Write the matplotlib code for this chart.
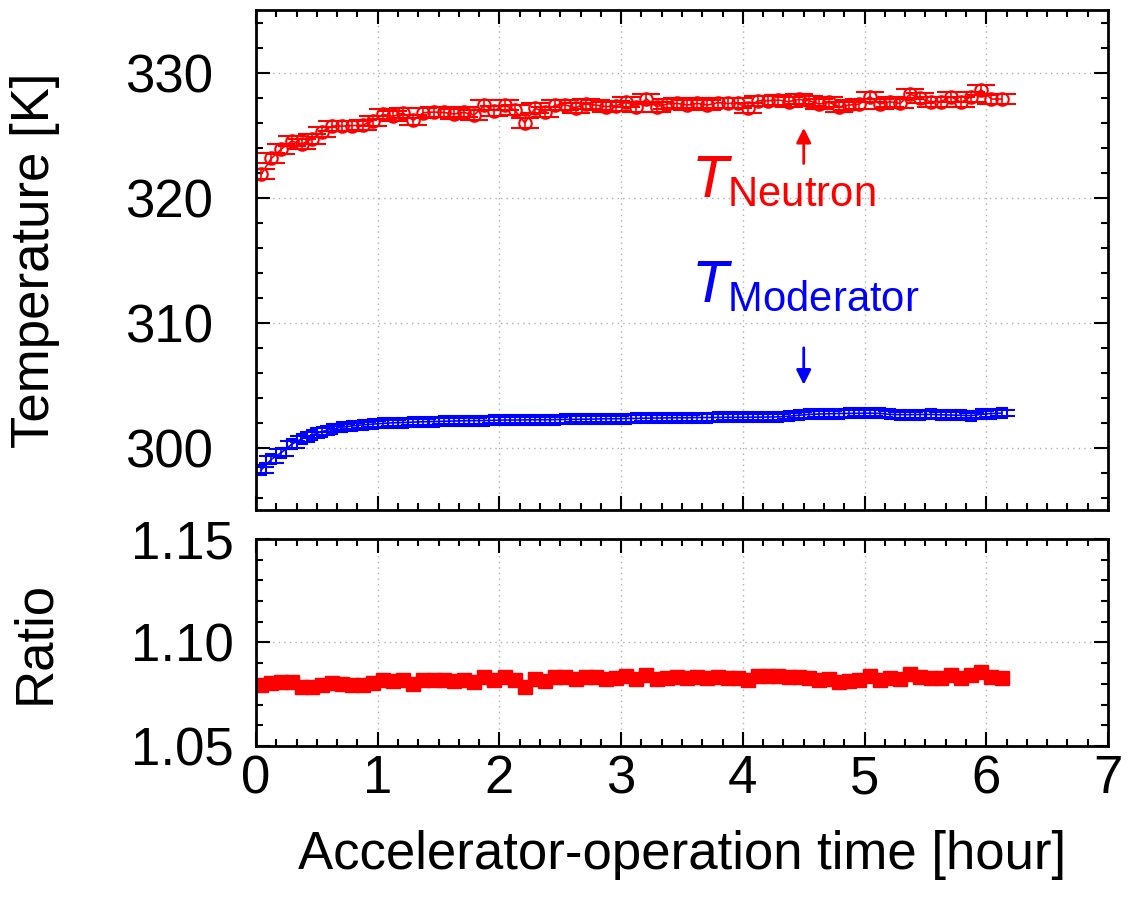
import matplotlib
matplotlib.use("Agg")
import matplotlib.pyplot as plt
import numpy as np
from matplotlib.ticker import AutoMinorLocator, MultipleLocator, FormatStrFormatter

plt.rcParams["font.family"] = ["Liberation Sans", "DejaVu Sans"]
plt.rcParams["mathtext.fontset"] = "custom"
plt.rcParams["mathtext.rm"] = "Liberation Sans"
plt.rcParams["mathtext.it"] = "Liberation Sans:italic"

# bin centres, 5 min bins [hour]
time_h = [0.042, 0.125, 0.208, 0.292, 0.375, 0.458, 0.542, 0.625, 0.708, 0.792,
          0.875, 0.958, 1.042, 1.125, 1.208, 1.292, 1.375, 1.458, 1.542, 1.625,
          1.708, 1.792, 1.875, 1.958, 2.042, 2.125, 2.208, 2.292, 2.375, 2.458,
          2.542, 2.625, 2.708, 2.792, 2.875, 2.958, 3.042, 3.125, 3.208, 3.292,
          3.375, 3.458, 3.542, 3.625, 3.708, 3.792, 3.875, 3.958, 4.042, 4.125,
          4.208, 4.292, 4.375, 4.458, 4.542, 4.625, 4.708, 4.792, 4.875, 4.958,
          5.042, 5.125, 5.208, 5.292, 5.375, 5.458, 5.542, 5.625, 5.708, 5.792,
          5.875, 5.958, 6.042, 6.125]

t_neutron = [321.86, 323.13, 323.88, 324.52, 324.28, 324.68, 325.27, 325.72, 325.72, 325.75,
             325.80, 326.12, 326.65, 326.49, 326.76, 326.17, 326.79, 326.84, 326.81, 326.68,
             326.81, 326.60, 327.37, 326.95, 327.40, 327.00, 325.99, 327.13, 326.87, 327.40,
             327.40, 327.19, 327.48, 327.40, 327.27, 327.35, 327.61, 327.27, 327.88, 327.27,
             327.48, 327.53, 327.40, 327.53, 327.40, 327.59, 327.53, 327.53, 327.19, 327.75,
             327.75, 327.80, 327.67, 327.85, 327.75, 327.48, 327.61, 327.27, 327.40, 327.48,
             328.07, 327.48, 327.67, 327.53, 328.28, 327.93, 327.67, 327.67, 328.07, 327.61,
             328.07, 328.61, 327.88, 327.88]

t_moderator = [298.20, 299.05, 299.60, 300.25, 300.70, 301.00, 301.28, 301.47, 301.63, 301.73,
               301.81, 301.87, 301.93, 301.98, 302.00, 302.03, 302.06, 302.08, 302.10, 302.12,
               302.14, 302.15, 302.16, 302.18, 302.20, 302.20, 302.21, 302.22, 302.22, 302.23,
               302.25, 302.26, 302.27, 302.28, 302.30, 302.30, 302.32, 302.33, 302.35, 302.36,
               302.37, 302.38, 302.38, 302.40, 302.40, 302.41, 302.42, 302.42, 302.43, 302.43,
               302.44, 302.45, 302.50, 302.58, 302.65, 302.68, 302.70, 302.72, 302.73, 302.74,
               302.75, 302.73, 302.65, 302.63, 302.63, 302.64, 302.65, 302.62, 302.60, 302.58,
               302.55, 302.65, 302.72, 302.75]

err_neutron = 0.4
err_moderator = 0.25

time_arr = np.array(time_h)
neu = np.array(t_neutron)
mod = np.array(t_moderator)
ratio = neu / mod

RED = "#ff0000"
BLUE = "#0000ff"
FS = 38

fig = plt.figure(figsize=(11.29, 9.14), dpi=100)
ax1 = fig.add_axes([0.2268, 0.442, 0.7546, 0.547])
ax2 = fig.add_axes([0.2268, 0.1838, 0.7546, 0.2265])


def style_axes(ax, ypad):
    for sp in ax.spines.values():
        sp.set_linewidth(2)
    ax.tick_params(which="both", direction="in", top=True, right=True, width=1.5)
    ax.tick_params(which="major", length=10, labelsize=FS)
    ax.tick_params(which="minor", length=5)
    ax.tick_params(axis="y", pad=ypad)
    ax.tick_params(axis="x", pad=6)
    ax.grid(True, which="major", linestyle=(0, (1, 3)), color="#b0b0b0", linewidth=1)
    ax.set_xlim(0, 7)
    ax.xaxis.set_major_locator(MultipleLocator(1))
    ax.xaxis.set_minor_locator(AutoMinorLocator(6))


# top panel: temperatures
ax1.errorbar(time_arr, neu, yerr=err_neutron, fmt="-o", color=RED, mfc="none",
             mec=RED, ms=9, mew=1.5, lw=1.2, capsize=10, elinewidth=1.2, capthick=1.2)
ax1.errorbar(time_arr, mod, yerr=err_moderator, fmt="-s", color=BLUE, mfc="none",
             mec=BLUE, ms=7, mew=1.5, lw=1.2, capsize=9, elinewidth=1.2, capthick=1.2)
style_axes(ax1, 31)
ax1.set_ylim(295, 335)
ax1.yaxis.set_major_locator(MultipleLocator(10))
ax1.yaxis.set_minor_locator(AutoMinorLocator(5))
ax1.tick_params(labelbottom=False)

ax1.text(3.57, 320.05, r"$T_{\mathrm{Neutron}}$", color=RED, fontsize=43, ha="left", va="baseline")
ax1.annotate("", xy=(4.5, 325.8), xytext=(4.5, 322.5),
             arrowprops=dict(arrowstyle="-|>", color=RED, lw=2, mutation_scale=22))
ax1.text(3.57, 311.65, r"$T_{\mathrm{Moderator}}$", color=BLUE, fontsize=43, ha="left", va="baseline")
ax1.annotate("", xy=(4.5, 304.8), xytext=(4.5, 308.2),
             arrowprops=dict(arrowstyle="-|>", color=BLUE, lw=2, mutation_scale=22))

# bottom panel: ratio
ax2.plot(time_arr, ratio, "s-", color=RED, ms=10, lw=2)
style_axes(ax2, 16)
ax2.set_ylim(1.05, 1.15)
ax2.yaxis.set_major_locator(MultipleLocator(0.05))
ax2.yaxis.set_minor_locator(AutoMinorLocator(5))
ax2.yaxis.set_major_formatter(FormatStrFormatter("%.2f"))

fig.text(35 / 1129, 1 - 260 / 914, "Temperature [K]", rotation=90, ha="center", va="center", fontsize=FS)
fig.text(35 / 1129, 1 - 642 / 914, "Ratio", rotation=90, ha="center", va="center", fontsize=FS)
fig.text(682 / 1129, 1 - 855 / 914, "Accelerator-operation time [hour]", ha="center", va="center", fontsize=FS)

fig.savefig("out.png", dpi=100)
